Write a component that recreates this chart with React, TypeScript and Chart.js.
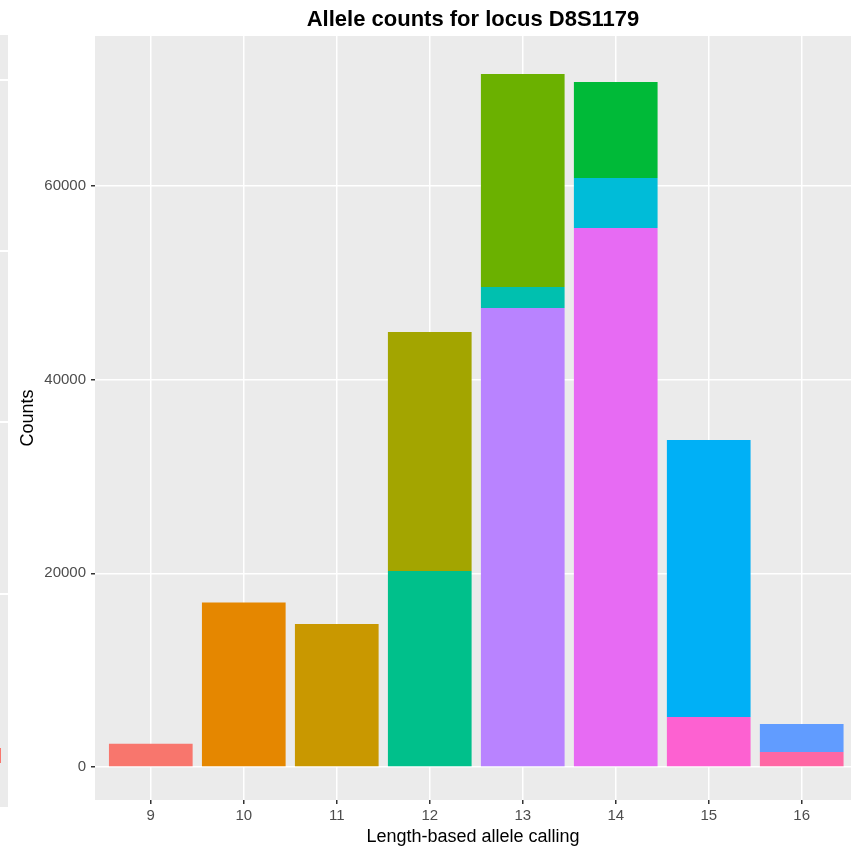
import React, { useEffect, useRef } from "react";
import { Chart, registerables } from "chart.js";

Chart.register(...registerables);

const categories = ["9", "10", "11", "12", "13", "14", "15", "16"];
const yTickValues = [0, 20000, 40000, 60000];

// stacked layers (bottom -> top), null = no segment
const bottomCounts = [2400, 17000, 14770, 20240, 47390, 55650, 5160, 1550];
const middleCounts = [null, null, null, null, 2170, 5160, null, null];
const topCounts = [null, null, null, 24680, 21990, 9910, 28600, 2890];

const bottomColors = ["#F8766D", "#E58700", "#C99800", "#00C08B", "#B983FF", "#E76BF3", "#FD61D1", "#FF67A4"];
const middleColors = ["#00C0AF", "#00C0AF", "#00C0AF", "#00C0AF", "#00C0AF", "#00BCD8", "#00BCD8", "#00BCD8"];
const topColors = ["#A3A500", "#A3A500", "#A3A500", "#A3A500", "#6BB100", "#00BA38", "#00B0F6", "#619CFF"];

const titleText = "Allele counts for locus D8S1179";
const xTitle = "Length-based allele calling";
const yTitle = "Counts";

function toPoints(values: (number | null)[]) {
  const pts: { x: number; y: number }[] = [];
  values.forEach((v, i) => {
    if (v !== null) pts.push({ x: i, y: v });
  });
  return pts;
}

function colorsFor(values: (number | null)[], colors: string[]) {
  const out: string[] = [];
  values.forEach((v, i) => {
    if (v !== null) out.push(colors[i]);
  });
  return out;
}

export default function App() {
  const ref = useRef<HTMLCanvasElement | null>(null);

  useEffect(() => {
    if (!ref.current) return;
    const panelPlugin = {
      id: "panel",
      beforeDraw(chart: any) {
        const { ctx, chartArea } = chart;
        ctx.save();
        ctx.fillStyle = "#EBEBEB";
        ctx.fillRect(chartArea.left, chartArea.top, chartArea.right - chartArea.left, chartArea.bottom - chartArea.top);
        ctx.restore();
      },
      afterDraw(chart: any) {
        const { ctx, chartArea } = chart;
        ctx.save();
        ctx.fillStyle = "#000000";
        ctx.font = "bold 22px 'Liberation Sans', Arial, sans-serif";
        ctx.textAlign = "center";
        ctx.textBaseline = "middle";
        ctx.fillText(titleText, (chartArea.left + chartArea.right) / 2, 20);
        ctx.restore();
      },
    };

    const mk = (values: (number | null)[], colors: string[], label: string) => ({
      label,
      data: toPoints(values),
      backgroundColor: colorsFor(values, colors),
      borderWidth: 0,
      barPercentage: 0.9,
      categoryPercentage: 1,
    });

    const chart = new Chart(ref.current, {
      type: "bar",
      data: {
        datasets: [
          mk(bottomCounts, bottomColors, "bottom"),
          mk(middleCounts, middleColors, "middle"),
          mk(topCounts, topColors, "top"),
        ] as any,
      },
      options: {
        animation: false,
        responsive: false,
        devicePixelRatio: 1,
        layout: { padding: { top: 36, left: 0, right: 0, bottom: 0 } },
        plugins: { legend: { display: false }, tooltip: { enabled: false }, title: { display: false } },
        scales: {
          x: {
            type: "linear",
            stacked: true,
            min: -0.6,
            max: 7.53,
            offset: false,
            afterBuildTicks(scale: any) {
              scale.ticks = categories.map((_, i) => ({ value: i }));
            },
            afterFit(scale: any) {
              scale.height = 50;
            },
            ticks: {
              callback: (v: any) => categories[Math.round(Number(v))] ?? "",
              color: "#4D4D4D",
              font: { family: "'Liberation Sans', Arial, sans-serif", size: 15 },
              padding: 3,
              maxRotation: 0,
              autoSkip: false,
            },
            grid: { offset: false, color: "#FFFFFF", lineWidth: 1.5, tickColor: "#333333", tickLength: 4, drawTicks: true },
            border: { display: false },
            title: {
              display: true,
              text: xTitle,
              color: "#000000",
              font: { family: "'Liberation Sans', Arial, sans-serif", size: 18 },
              padding: { top: 0, bottom: 2 },
            },
          } as any,
          y: {
            type: "linear",
            stacked: true,
            min: -3400,
            max: 75480,
            afterBuildTicks(scale: any) {
              scale.ticks = yTickValues.map((v) => ({ value: v }));
            },
            afterFit(scale: any) {
              scale.width = 95;
            },
            ticks: {
              color: "#4D4D4D",
              font: { family: "'Liberation Sans', Arial, sans-serif", size: 15 },
              padding: 5,
              callback: (v: any) => String(v),
            },
            grid: { color: "#FFFFFF", lineWidth: 1.5, tickColor: "#333333", tickLength: 4, drawTicks: true },
            border: { display: false },
            title: {
              display: true,
              text: yTitle,
              color: "#000000",
              font: { family: "'Liberation Sans', Arial, sans-serif", size: 18 },
              padding: { top: 17, bottom: 0 },
            },
          } as any,
        },
      } as any,
      plugins: [panelPlugin],
    });
    return () => chart.destroy();
  }, []);

  return (
    <div style={{ position: "fixed", left: 0, top: 0, width: 851, height: 850, background: "#FFFFFF" }}>
      <div style={{ position: "absolute", left: 0, top: 35, width: 8, height: 772, background: "#EBEBEB" }} />
      {[79, 250, 421, 593].map((y) => (
        <div key={y} style={{ position: "absolute", left: 0, top: y, width: 8, height: 1.5, background: "#FFFFFF" }} />
      ))}
      <div style={{ position: "absolute", left: 0, top: 748, width: 1, height: 15, background: "#F8766D" }} />
      <canvas ref={ref} width={851} height={850} style={{ position: "absolute", left: 0, top: 0 }} />
    </div>
  );
}
